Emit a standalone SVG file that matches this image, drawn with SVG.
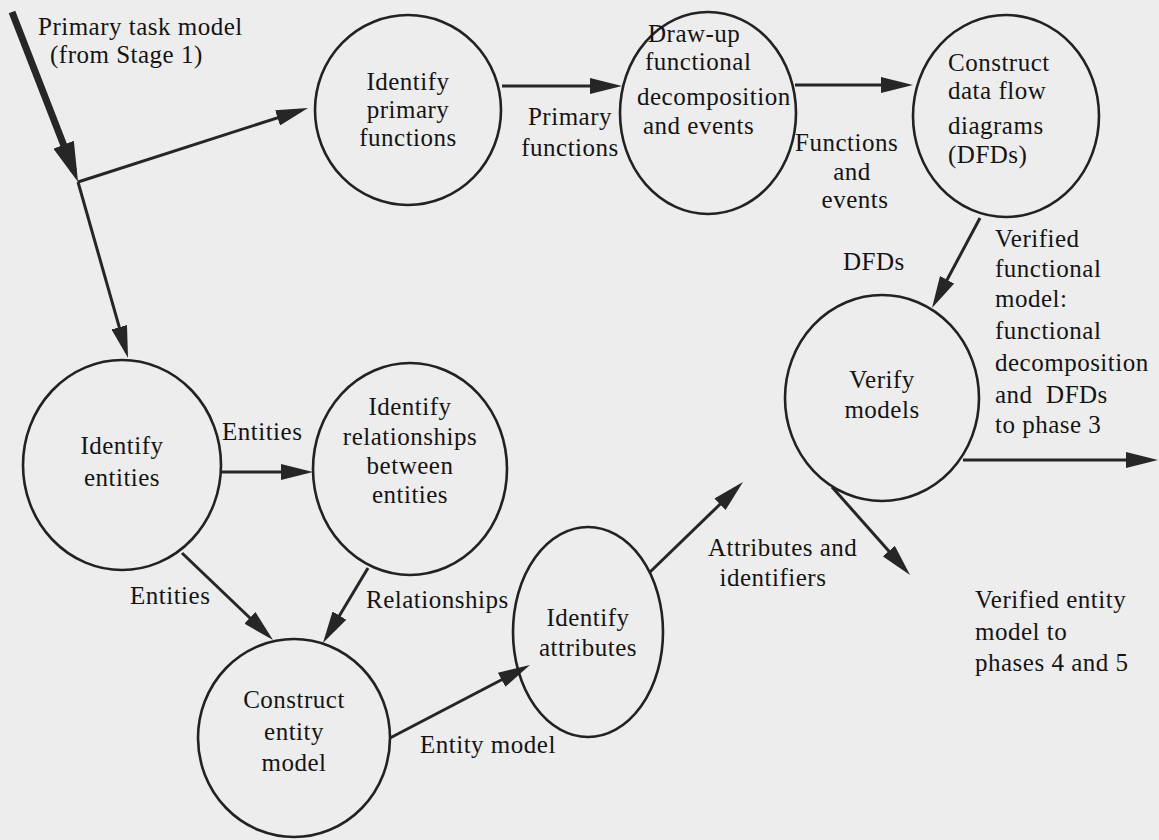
<svg xmlns="http://www.w3.org/2000/svg" width="1159" height="840" viewBox="0 0 1159 840" font-family="Liberation Serif, Times New Roman, serif" font-size="25">
  <style>
    .node { fill: none; stroke: #222222; stroke-width: 2.6; }
    .flow { fill: none; stroke: #262626; stroke-width: 3; marker-end: url(#head); }
    .thick { fill: none; stroke: #262626; stroke-width: 7; marker-end: url(#bighead); }
    text { fill: #141414; letter-spacing: 0.5px; }
    .c { text-anchor: middle; }
  </style>
  <defs>
    <marker id="head" markerUnits="userSpaceOnUse" markerWidth="32" markerHeight="16" viewBox="0 0 32 16" refX="22" refY="8" orient="auto">
      <path d="M0,0 L32,8 L0,16 z" fill="#262626"/>
    </marker>
    <marker id="bighead" markerUnits="userSpaceOnUse" markerWidth="40" markerHeight="22" viewBox="0 0 40 22" refX="28" refY="11" orient="auto">
      <path d="M0,0 L40,11 L0,22 z" fill="#262626"/>
    </marker>
  </defs>

  <rect x="0" y="0" width="1159" height="840" fill="#ededed"/>

  <!-- connectors -->
  <g id="connectors">
    <line class="thick" x1="12" y1="12" x2="73.7" y2="170.8"/>
    <line class="flow" x1="78" y1="182" x2="298.5" y2="111.1"/>
    <line class="flow" x1="78" y1="182" x2="125.3" y2="348.4"/>
    <line class="flow" x1="502" y1="86" x2="612" y2="86"/>
    <line class="flow" x1="795" y1="85" x2="903" y2="85"/>
    <line class="flow" x1="980" y1="218" x2="936.7" y2="299.2"/>
    <line class="flow" x1="963" y1="460" x2="1148" y2="460"/>
    <line class="flow" x1="832" y1="487" x2="903.4" y2="567.5"/>
    <line class="flow" x1="650" y1="572" x2="735.8" y2="489"/>
    <line class="flow" x1="221" y1="472" x2="303" y2="472"/>
    <line class="flow" x1="182" y1="553" x2="265.8" y2="633.1"/>
    <line class="flow" x1="368" y1="568" x2="328.1" y2="634.4"/>
    <line class="flow" x1="390" y1="738" x2="521.1" y2="669.6"/>
  </g>

  <!-- flow labels -->
  <g id="labels">
    <text x="38" y="35">Primary task model</text>
    <text x="50" y="63">(from Stage 1)</text>
    <text class="c" x="570" y="125">Primary</text>
    <text class="c" x="570" y="156">functions</text>
    <text x="795" y="151">Functions</text>
    <text class="c" x="852" y="180">and</text>
    <text class="c" x="855" y="208">events</text>
    <text x="843" y="270">DFDs</text>
    <text x="995" y="247">Verified</text>
    <text x="995" y="277">functional</text>
    <text x="995" y="307">model:</text>
    <text x="995" y="339">functional</text>
    <text x="995" y="371">decomposition</text>
    <text x="995" y="403" xml:space="preserve">and  DFDs</text>
    <text x="995" y="433">to phase 3</text>
    <text x="222" y="440">Entities</text>
    <text x="130" y="604">Entities</text>
    <text x="366" y="608">Relationships</text>
    <text x="420" y="753">Entity model</text>
    <text x="708" y="556">Attributes and</text>
    <text class="c" x="773" y="586">identifiers</text>
    <text x="975" y="608">Verified entity</text>
    <text x="975" y="640">model to</text>
    <text x="975" y="671">phases 4 and 5</text>
  </g>

  <!-- process nodes -->
  <g id="identify-primary-functions">
    <ellipse class="node" cx="408" cy="110" rx="93" ry="95"/>
    <text class="c" x="408" y="90">Identify</text>
    <text class="c" x="408" y="118">primary</text>
    <text class="c" x="408" y="146">functions</text>
  </g>
  <g id="draw-up-decomposition">
    <ellipse class="node" cx="708" cy="113" rx="88" ry="101"/>
    <text x="648" y="42">Draw-up</text>
    <text x="645" y="70">functional</text>
    <text x="637" y="105">decomposition</text>
    <text x="643" y="134">and events</text>
  </g>
  <g id="construct-dfds">
    <ellipse class="node" cx="1006" cy="116" rx="93" ry="101"/>
    <text x="948" y="71">Construct</text>
    <text x="948" y="99">data flow</text>
    <text x="948" y="134">diagrams</text>
    <text x="948" y="163">(DFDs)</text>
  </g>
  <g id="verify-models">
    <ellipse class="node" cx="882" cy="398" rx="97" ry="103"/>
    <text class="c" x="882" y="388">Verify</text>
    <text class="c" x="882" y="418">models</text>
  </g>
  <g id="identify-entities">
    <ellipse class="node" cx="122" cy="465" rx="99" ry="105"/>
    <text class="c" x="122" y="454">Identify</text>
    <text class="c" x="122" y="486">entities</text>
  </g>
  <g id="identify-relationships">
    <ellipse class="node" cx="410" cy="469" rx="97" ry="106"/>
    <text class="c" x="410" y="415">Identify</text>
    <text class="c" x="410" y="445">relationships</text>
    <text class="c" x="410" y="474">between</text>
    <text class="c" x="410" y="503">entities</text>
  </g>
  <g id="construct-entity-model">
    <ellipse class="node" cx="294" cy="738" rx="96" ry="99"/>
    <text class="c" x="294" y="708">Construct</text>
    <text class="c" x="294" y="740">entity</text>
    <text class="c" x="294" y="771">model</text>
  </g>
  <g id="identify-attributes">
    <ellipse class="node" cx="588" cy="632" rx="75" ry="105"/>
    <text class="c" x="588" y="626">Identify</text>
    <text class="c" x="588" y="656">attributes</text>
  </g>
</svg>
